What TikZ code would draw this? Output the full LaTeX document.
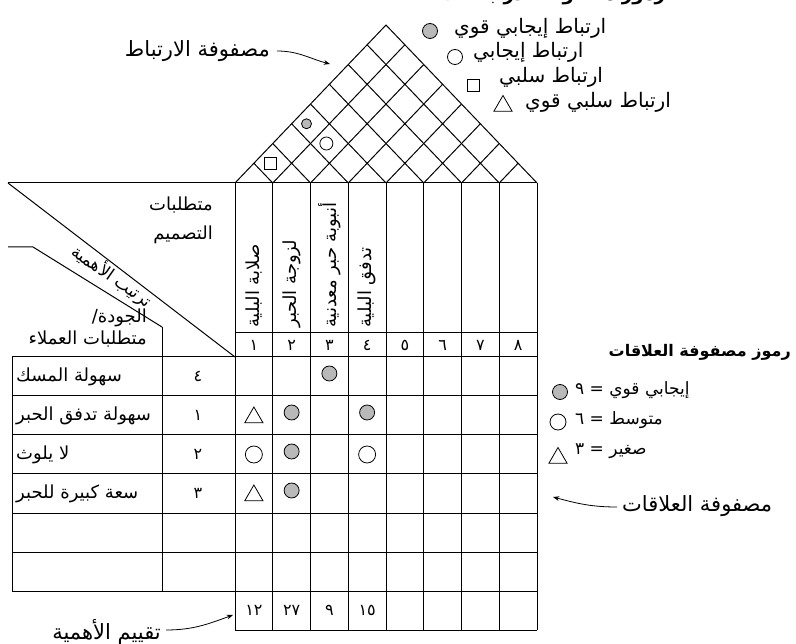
\documentclass[tikz,border=0pt]{standalone}
\usepackage{fontspec}
\newfontfamily\arabicfont[Script=Arabic]{DejaVu Sans}
\TeXXeTstate=1
\usetikzlibrary{arrows.meta, positioning, shapes.geometric, calc}

\begin{document}
\begin{tikzpicture}[
  x=1pt, y=-1pt,
  grid/.style={line width=1pt},
  lbl/.style={font=\arabicfont\fontsize{18}{29}\selectfont, inner sep=1pt},
  anno/.style={font=\arabicfont\fontsize{21}{25}\selectfont, inner sep=1pt},
  key/.style={font=\arabicfont\fontsize{20}{24}\selectfont, inner sep=1pt},
  head/.style={font=\arabicfont\bfseries\fontsize{16}{20}\selectfont, inner sep=1pt},
  num/.style={font=\arabicfont\fontsize{16}{18}\selectfont, inner sep=1pt},
  symstrong/.style={circle, draw, line width=0.8pt, fill=gray!55, minimum size=15pt, inner sep=0pt},
  symmid/.style={circle, draw, line width=0.8pt, minimum size=15pt, inner sep=0pt},
  symweak/.style={regular polygon, regular polygon sides=3, draw, line width=0.8pt, minimum size=21pt, inner sep=0pt},
  symneg/.style={rectangle, draw, line width=0.8pt, minimum size=12pt, inner sep=0pt},
  arr/.style={-{Stealth[length=2.2mm]}, line width=0.8pt}
]
  \useasboundingbox (0,0) rectangle (796,644);
  \clip (0,0) rectangle (796,644);
  \def\bx{235} \def\cw{37.75} \def\by{183} \def\rk{1.046}

  \draw[grid] (\bx,\by) -- ({\bx+4*\cw},{\by-4*\cw*\rk}) -- ({\bx+8*\cw},\by);
  \foreach \i in {1,...,7}{
    \draw[grid] ({\bx+\i*\cw},\by) -- ({\bx+(\i+8)*\cw/2},{\by-(8-\i)*\cw/2*\rk});
    \draw[grid] ({\bx+\i*\cw},\by) -- ({\bx+\i*\cw/2},{\by-\i*\cw/2*\rk});
  }
  \foreach \i in {0,...,8}
    \draw[grid] ({\bx+\i*\cw},\by) -- ({\bx+\i*\cw},630);
  \draw[grid] (8,\by) -- ({\bx+8*\cw},\by);
  \draw[grid] (\bx,333) -- ({\bx+8*\cw},333);
  \foreach \j in {0,...,6}
    \draw[grid] (12,{357+39*\j}) -- ({\bx+8*\cw},{357+39*\j});
  \draw[grid] (\bx,630) -- ({\bx+8*\cw},630);
  \draw[grid] (12,357) -- (12,591);
  \draw[grid] (162,327) -- (162,591);
  \draw[grid] (8,\by) -- (\bx,357);
  \draw[grid] (8,247) -- (33,247) -- (162,327);

  \node[symneg] (c12) at ({\bx+1*\cw-2},{\by-1*\cw/2*\rk}) {};
  \node[symstrong, minimum size=10pt] (c14) at ({\bx+2*\cw-4},{\by-3*\cw/2*\rk}) {};
  \node[symmid, minimum size=13pt] (c24) at ({\bx+2.5*\cw-3},{\by-2*\cw/2*\rk}) {};

  \node[anno, anchor=east] (corrlbl) at (271,51) {\beginR مصفوفة الارتباط\endR};
  \coordinate (corrtip) at (330,64);
  \draw[arr] (corrlbl.east) ++(6,0) to[out=0, in=165] (corrtip);

  \node[head, font=\arabicfont\bfseries\fontsize{18}{20}\selectfont, anchor=base] (corrtitle) at (553,1) {\beginR رموز مصفوفة الارتباطات\endR};
  \node[symstrong] (kstrong) at (430,31) {};
  \node[key, anchor=west] (kstrongt) at (453,28) {\beginR ارتباط إيجابي قوي\endR};
  \node[symmid] (kmid) at (455,57) {};
  \node[key, anchor=west] (kmidt) at (472,52) {\beginR ارتباط إيجابي\endR};
  \node[symneg] (kneg) at (473,85) {};
  \node[key, anchor=west] (knegt) at (498,77) {\beginR ارتباط سلبي\endR};
  \node[symweak] (kweak) at (503,106) {};
  \node[key, anchor=west] (kweakt) at (524,102) {\beginR ارتباط سلبي قوي\endR};

  \node[lbl, anchor=east, align=right] (designreq) at (214,220)
    {\beginR متطلبات\endR\\\beginR التصميم\endR};
  \node[lbl, font=\arabicfont\fontsize{17}{20}\selectfont, rotate=-35] (rank) at (112,276) {\beginR ترتيب الأهمية\endR};
  \node[lbl, font=\arabicfont\fontsize{18}{22}\selectfont, anchor=east, align=right] (custreq) at (148,328)
    {\beginR الجودة/\endR\\\beginR متطلبات العملاء\endR};

  \foreach \t [count=\i] in {صلابة البلية, لزوجة الحبر, أنبوبة حبر معدنية, تدفق البلية}
    \node[lbl, rotate=90, anchor=west] (dr\i) at ({\bx+(\i-0.5)*\cw},329) {\beginR\t\endR};
  \foreach \d [count=\i] in {١,٢,٣,٤,٥,٦,٧,٨}
    \node[num] (n\i) at ({\bx+(\i-0.5)*\cw},345) {\d};

  \foreach \t/\d [count=\j] in {سهولة المسك/٤, سهولة تدفق الحبر/١, لا يلوث/٢, سعة كبيرة للحبر/٣}{
    \node[lbl, anchor=west] (cr\j) at (15,{357+39*(\j-0.5)}) {\beginR\t\endR};
    \node[num] (imp\j) at (198,{357+39*(\j-0.5)}) {\d};
  }

  \node[symstrong] (m13) at ({\bx+2.5*\cw},{357+39*0.5-3}) {};
  \node[symweak] (m21) at ({\bx+0.5*\cw},{357+39*1.5+2}) {};
  \node[symstrong] (m22) at ({\bx+1.5*\cw},{357+39*1.5-3}) {};
  \node[symstrong] (m24) at ({\bx+3.5*\cw},{357+39*1.5-3}) {};
  \node[symmid, minimum size=17pt] (m31) at ({\bx+0.5*\cw},{357+39*2.5}) {};
  \node[symstrong] (m32) at ({\bx+1.5*\cw},{357+39*2.5-3}) {};
  \node[symmid, minimum size=17pt] (m34) at ({\bx+3.5*\cw},{357+39*2.5}) {};
  \node[symweak] (m41) at ({\bx+0.5*\cw},{357+39*3.5+2}) {};
  \node[symstrong] (m42) at ({\bx+1.5*\cw},{357+39*3.5-3}) {};

  \foreach \d [count=\i] in {١٢,٢٧,٩,١٥}
    \node[num] (s\i) at ({\bx+(\i-0.5)*\cw},610) {\d};
  \node[anno, anchor=east] (scorelbl) at (162,632) {\beginR تقييم الأهمية\endR};
  \coordinate (scoretip) at (233,615);
  \draw[arr] (scorelbl.east) ++(4,-2) to[out=0, in=200] (scoretip);

  \node[head, anchor=east] (reltitle) at (792,352) {\beginR رموز مصفوفة العلاقات\endR};
  \node[symstrong] (rstrong) at (560,392) {};
  \node[lbl, font=\arabicfont\fontsize{17}{20}\selectfont, anchor=west] (rstrongt) at (574,390) {\beginR إيجابي قوي = ٩\endR};
  \node[symmid, minimum size=16pt] (rmid) at (558,422) {};
  \node[lbl, font=\arabicfont\fontsize{17}{20}\selectfont, anchor=west] (rmidt) at (574,420) {\beginR متوسط = ٦\endR};
  \node[symweak] (rweak) at (558,458) {};
  \node[lbl, font=\arabicfont\fontsize{17}{20}\selectfont, anchor=west] (rweakt) at (574,451) {\beginR صغير = ٣\endR};
  \node[anno, anchor=west] (rellbl) at (621,506) {\beginR مصفوفة العلاقات\endR};
  \coordinate (reltip) at (553,497);
  \draw[arr] (rellbl.west) ++(-4,1) to[out=180, in=-15] (reltip);
\end{tikzpicture}
\end{document}
